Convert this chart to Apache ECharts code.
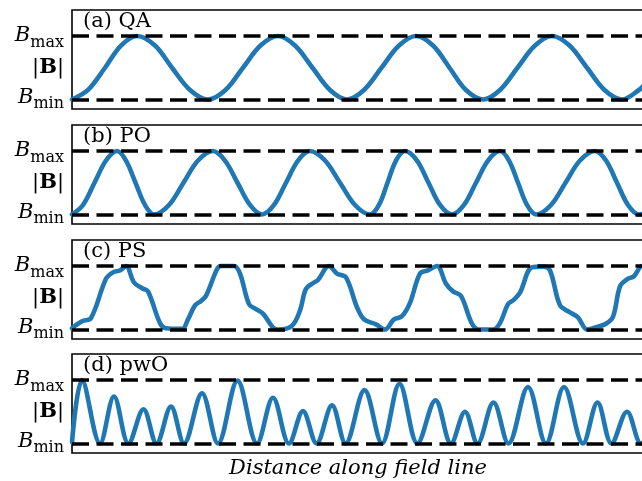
<!DOCTYPE html>
<html>
<head>
<meta charset="utf-8">
<script src="https://cdn.jsdelivr.net/npm/echarts@6/dist/echarts.min.js"></script>
<style>
  html, body { margin: 0; padding: 0; background: #fff; }
  #chart { width: 642px; height: 481px; }
</style>
</head>
<body>
<div id="chart"></div>
<script>
// Normalised field strength (0 = B_min, 1 = B_max) against distance along a field line.
const panelTitles = ['(a) QA', '(b) PO', '(c) PS', '(d) pwO'];
const xLabel = 'Distance along field line';

// (a) quasi-axisymmetric
const qaS = [0, 0.16, 0.33, 0.49, 0.65, 0.83, 1.00, 1.18, 1.36, 1.535, 1.71, 1.885, 2.06, 2.23, 2.405, 2.58, 2.75,
             2.92, 3.095, 3.27, 3.44, 3.61, 3.775, 3.94, 4.11, 4.28, 4.455, 4.63, 4.80, 4.975, 5.15, 5.325, 5.50, 5.67, 5.72];
const qaB = [0, 0.15, 0.5, 0.85, 1, 0.85, 0.5, 0.15, 0, 0.15, 0.5, 0.85, 1, 0.85, 0.5, 0.15, 0,
             0.15, 0.5, 0.85, 1, 0.85, 0.5, 0.15, 0, 0.15, 0.5, 0.85, 1, 0.85, 0.5, 0.15, 0, 0.15, 0.23];

// (b) poloidally omnigenous
const poS = [0, 0.11, 0.225, 0.34, 0.45, 0.54, 0.635, 0.73, 0.82, 0.97, 1.115, 1.26, 1.41, 1.53, 1.655, 1.78, 1.90,
             2.02, 2.14, 2.26, 2.38, 2.53, 2.68, 2.83, 2.98, 3.07, 3.155, 3.24, 3.33, 3.45, 3.565, 3.68, 3.80,
             3.92, 4.04, 4.16, 4.28, 4.37, 4.46, 4.55, 4.64, 4.79, 4.935, 5.08, 5.23, 5.34, 5.45, 5.56, 5.67, 5.72];
const poB = [0, 0.15, 0.5, 0.85, 1, 0.85, 0.5, 0.15, 0, 0.15, 0.5, 0.85, 1, 0.85, 0.5, 0.15, 0,
             0.15, 0.5, 0.85, 1, 0.85, 0.5, 0.15, 0, 0.15, 0.5, 0.85, 1, 0.85, 0.5, 0.15, 0,
             0.15, 0.5, 0.85, 1, 0.85, 0.5, 0.15, 0, 0.15, 0.5, 0.85, 1, 0.85, 0.5, 0.15, 0, 0.01];

// (c) pseudo-symmetric
const psS = [0.00, 0.10, 0.19, 0.34, 0.41, 0.48, 0.54, 0.62, 0.70, 0.76, 0.88, 0.94, 1.10, 1.16, 1.23, 1.29, 1.34, 1.45, 1.49, 1.62,
             1.68, 1.77, 1.84, 1.91, 2.01, 2.06, 2.20, 2.28, 2.34, 2.42, 2.46, 2.57, 2.65, 2.74, 2.85, 2.92, 3.04, 3.13, 3.22, 3.30,
             3.38, 3.48, 3.56, 3.65, 3.74, 3.81, 3.89, 4.00, 4.07, 4.21, 4.28, 4.36, 4.42, 4.48, 4.60, 4.71, 4.78, 4.88, 4.98, 5.06,
             5.15, 5.25, 5.34, 5.41, 5.48, 5.55, 5.62, 5.70, 5.72];
const psB = [0.02, 0.13, 0.18, 0.80, 0.90, 0.93, 1.00, 0.74, 0.65, 0.60, 0.10, 0.02, 0.01, 0.16, 0.38, 0.45, 0.53, 0.95, 1.00, 1.00,
             0.88, 0.40, 0.32, 0.25, 0.03, 0.00, 0.06, 0.30, 0.64, 0.74, 0.78, 1.00, 0.88, 0.82, 0.35, 0.16, 0.08, 0.00, 0.16, 0.21,
             0.42, 0.88, 0.93, 1.00, 0.72, 0.60, 0.53, 0.09, 0.00, 0.00, 0.10, 0.40, 0.47, 0.58, 0.98, 0.99, 0.93, 0.38, 0.27, 0.19,
             0.00, 0.04, 0.09, 0.20, 0.68, 0.79, 0.84, 1.00, 1.00];

// (d) piecewise omnigenous
const pwoS = [0, 0.10, 0.28, 0.42, 0.565, 0.715, 0.845, 0.99, 1.12, 1.30, 1.46, 1.655, 1.85, 2.01, 2.17, 2.31, 2.445, 2.60, 2.735,
              2.925, 3.10, 3.275, 3.455, 3.635, 3.79, 3.93, 4.055, 4.215, 4.365, 4.56, 4.74, 4.92, 5.11, 5.255, 5.395, 5.55, 5.69, 5.72];
const pwoB = [0.02, 1.0, 0, 0.74, 0, 0.54, 0, 0.58, 0, 0.79, 0, 0.99, 0, 0.72, 0, 0.51, 0, 0.60, 0,
              0.84, 0, 0.94, 0, 0.68, 0, 0.50, 0, 0.645, 0, 0.89, 0, 0.89, 0, 0.645, 0, 0.50, 0, 0.02];

const sMax = 5.72;
const yLevels = [0, 0.5, 1];           // B_min, |B|, B_max
const seriesS = [qaS, poS, psS, pwoS];
const seriesB = [qaB, poB, psB, pwoB];
const smoothness = [0.35, 0.35, 0.35, 0.35];

const panelTops = [10, 125, 240, 354];
const panelHeight = 99;
const serif = 'DejaVu Serif';

const chart = echarts.init(document.getElementById('chart'), null, { renderer: 'canvas' });

const grids = [], xAxes = [], yAxes = [], series = [], titles = [];
panelTops.forEach((top, i) => {
  grids.push({
    left: 72, right: -2, top: top, height: panelHeight,
    outerBoundsMode: 'none', containLabel: false,
    show: true, borderColor: '#000', borderWidth: 1.6, backgroundColor: 'transparent'
  });
  const last = i === panelTops.length - 1;
  xAxes.push({
    gridIndex: i, type: 'value', min: 0, max: sMax,
    axisLine: { show: false }, axisTick: { show: false }, axisLabel: { show: false }, splitLine: { show: false },
    name: last ? xLabel : '', nameLocation: 'middle', nameGap: 5,
    nameTextStyle: { fontFamily: serif, fontStyle: 'italic', fontSize: 21, color: '#000', verticalAlign: 'top' }
  });
  yAxes.push({
    gridIndex: i, type: 'value', min: -0.15, max: 1.41,
    axisLine: { show: false }, axisTick: { show: false }, splitLine: { show: false },
    axisLabel: {
      customValues: yLevels,
      margin: 8,
      formatter: v => v === 1 ? '{b|B}{s|max}' : (v === 0 ? '{bm|B}{sm|min}' : '{p||}{bb|B}{p||}'),
      rich: {
        b:  { fontFamily: serif, fontStyle: 'italic', fontSize: 21, lineHeight: 30, color: '#000' },
        s:  { fontFamily: serif, fontSize: 16, lineHeight: 14, verticalAlign: 'bottom', color: '#000' },
        bm: { fontFamily: serif, fontStyle: 'italic', fontSize: 21, lineHeight: 24, verticalAlign: 'top', color: '#000' },
        sm: { fontFamily: serif, fontSize: 16, lineHeight: 14, verticalAlign: 'bottom', color: '#000' },
        p:  { fontFamily: serif, fontSize: 21, lineHeight: 30, color: '#000' },
        bb: { fontFamily: serif, fontWeight: 'bold', fontSize: 21, lineHeight: 30, color: '#000' }
      }
    }
  });
  series.push({
    type: 'line', xAxisIndex: i, yAxisIndex: i,
    data: seriesS[i].map((s, k) => [s, seriesB[i][k]]),
    smooth: smoothness[i], showSymbol: false, symbol: 'none', clip: true,
    lineStyle: { color: '#1f77b4', width: 4.6, cap: 'round', join: 'round' },
    z: 2,
    markLine: {
      silent: true, symbol: 'none', label: { show: false }, z: 5,
      lineStyle: { color: '#000', type: [17, 7.5], width: 3.6 },
      emphasis: { disabled: true },
      data: [{ yAxis: yLevels[2] }, { yAxis: yLevels[0] }]
    }
  });
  titles.push({
    text: panelTitles[i], left: 83, top: top + 1, padding: 0,
    textStyle: { fontFamily: serif, fontWeight: 'normal', fontSize: 21, color: '#000' }
  });
});

chart.setOption({
  animation: false,
  backgroundColor: '#fff',
  title: titles,
  grid: grids,
  xAxis: xAxes,
  yAxis: yAxes,
  series: series
});
</script>
</body>
</html>
